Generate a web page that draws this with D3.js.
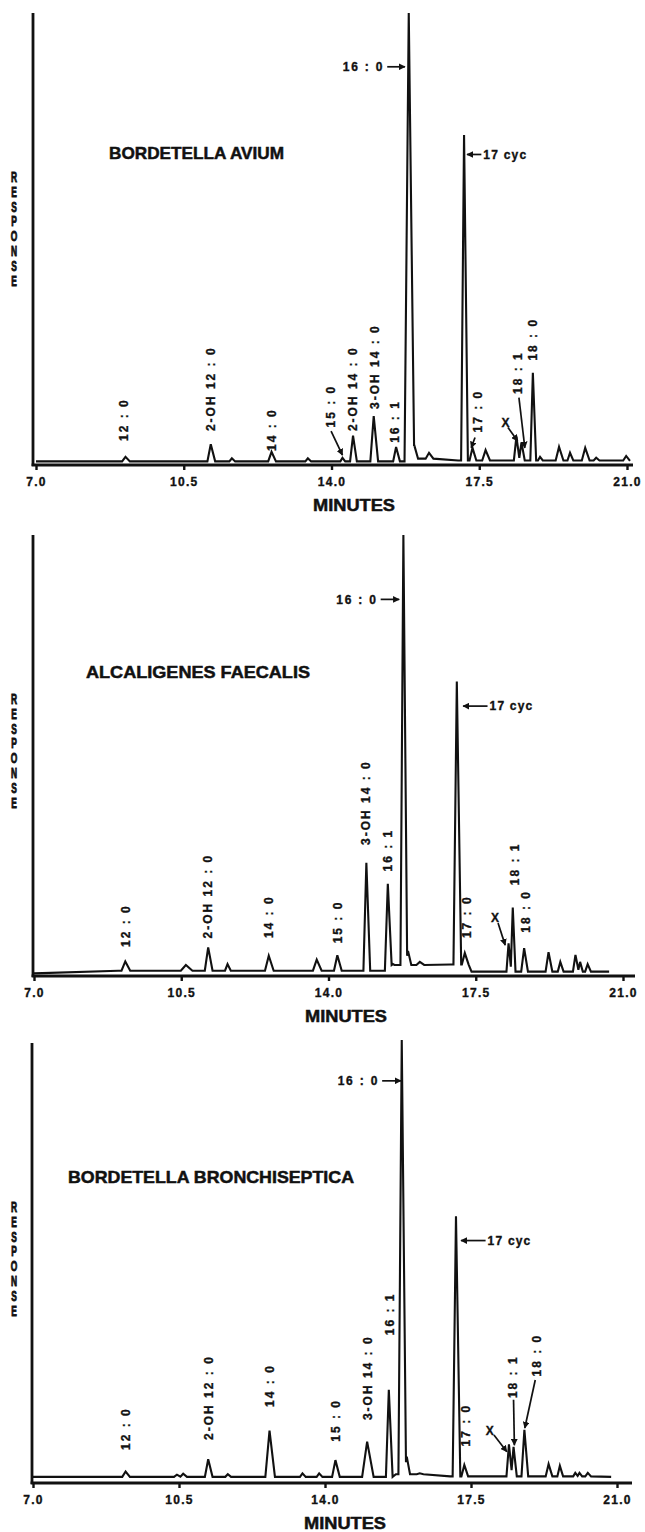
<!DOCTYPE html>
<html>
<head>
<meta charset="utf-8">
<script src="https://cdn.jsdelivr.net/npm/d3@7"></script>
<style>
html, body { margin: 0; padding: 0; background: #fff; }
svg text { font-family: "Liberation Sans", Arial, Helvetica, sans-serif; font-weight: bold; fill: #111; stroke: #111; stroke-width: 0.35px; }
</style>
</head>
<body>
<svg id="chart" width="645" height="1532"></svg>
<script>
// x axis, minutes
var tickValues = [7.0, 10.5, 14.0, 17.5, 21.0];

var speciesNames = ["BORDETELLA AVIUM", "ALCALIGENES FAECALIS", "BORDETELLA BRONCHISEPTICA"];

/*
 * peaks are [retention time (min), response (% of 16:0 full scale), half base width (min)]
 * baseline knots are [time, response]
 */

// Bordetella avium
var avPeaks = [
    [9.12, 1.8, 0.08], [11.14, 4.6, 0.08], [11.64, 1.5, 0.06], [12.58, 2.9, 0.08],
    [13.44, 1.5, 0.06], [14.26, 1.6, 0.05], [14.51, 6.5, 0.07], [15.00, 10.8, 0.08],
    [15.53, 4.0, 0.07], [15.83, 100, 0.10], [15.96, 4.4, 0.07], [16.31, 2.7, 0.08],
    [17.14, 73, 0.07], [17.34, 3.8, 0.07], [17.65, 3.3, 0.08], [18.38, 6.3, 0.06],
    [18.50, 5.0, 0.06], [18.77, 20.4, 0.06], [18.94, 1.8, 0.05], [19.39, 4.0, 0.08],
    [19.65, 2.7, 0.06], [20.01, 3.8, 0.08], [20.27, 1.6, 0.06], [20.98, 2.0, 0.07]
];
var avBaseline = [[7.0, 0.8], [15.9, 1.4], [17.0, 1.0], [21.06, 0.9]];
var avLabels = [
    ["12 : 0", 9.07, 5.3], ["2-OH 12 : 0", 11.14, 7.5], ["14 : 0", 12.58, 3.1],
    ["15 : 0", 13.99, 8.3], ["2-OH 14 : 0", 14.51, 7.5], ["3-OH 14 : 0", 15.02, 12.4],
    ["16 : 1", 15.50, 4.9], ["17 : 0", 17.46, 7.2], ["18 : 1", 18.41, 15.7],
    ["18 : 0", 18.77, 23.1]
];
var avX = [18.12, 9.4];
var avArrows = [[13.99, 7.5, 14.26, 2.2], [17.40, 6.1, 17.31, 3.8], [18.18, 8.3, 18.41, 5.3], [18.44, 14.9, 18.58, 3.8]];
var avCallouts = [["16 : 0", 15.32, 15.74, 88.1], ["17 cyc", 17.55, 17.21, 68.7]];

// Alcaligenes faecalis
var afPeaks = [
    [9.17, 3.3, 0.09], [10.61, 2.5, 0.12], [11.14, 6.5, 0.08], [11.60, 2.7, 0.06],
    [12.58, 4.6, 0.09], [13.72, 3.7, 0.09], [14.21, 4.7, 0.08], [14.90, 25.7, 0.07],
    [15.41, 20.9, 0.07], [15.53, 2.7, 0.03], [15.78, 100, 0.07], [15.89, 5.7, 0.06],
    [16.17, 3.2, 0.08], [17.05, 66.8, 0.08], [17.24, 5.2, 0.07], [18.28, 7.4, 0.05],
    [18.38, 15.5, 0.05], [18.65, 6.3, 0.07], [19.23, 5.4, 0.07], [19.51, 3.2, 0.06],
    [19.87, 4.8, 0.06], [19.98, 3.2, 0.05], [20.16, 2.7, 0.06]
];
var afBaseline = [[7.0, 0.6], [9.0, 1.2], [15.45, 2.5], [16.9, 2.6], [17.4, 1.0], [20.67, 1.0]];
var afLabels = [
    ["12 : 0", 9.17, 6.6], ["2-OH 12 : 0", 11.13, 8.5], ["14 : 0", 12.57, 8.6],
    ["15 : 0", 14.21, 7.4], ["3-OH 14 : 0", 14.89, 29.7], ["16 : 1", 15.41, 23.7],
    ["17 : 0", 17.29, 8.6], ["18 : 1", 18.42, 20.6], ["18 : 0", 18.69, 9.8]
];
var afX = [17.96, 13.2];
var afArrows = [[18.03, 12.0, 18.20, 7.0]];
var afCallouts = [["16 : 0", 15.24, 15.68, 85.4], ["17 cyc", 17.78, 17.20, 61.2]];

// Bordetella bronchiseptica
var bbPeaks = [
    [9.22, 2.6, 0.08], [10.45, 1.9, 0.07], [10.60, 2.1, 0.07], [11.20, 5.4, 0.08],
    [11.67, 2.0, 0.06], [12.67, 11.9, 0.10], [13.46, 2.2, 0.06], [13.86, 2.2, 0.06],
    [14.25, 5.2, 0.08], [15.01, 9.4, 0.12], [15.53, 21.2, 0.07], [15.84, 100.7, 0.08],
    [15.96, 6.0, 0.06], [16.27, 2.2, 0.07], [17.14, 60.6, 0.08], [17.34, 4.1, 0.07],
    [18.41, 8.8, 0.06], [18.52, 8.2, 0.06], [18.78, 12.1, 0.07], [19.36, 4.3, 0.07],
    [19.63, 3.9, 0.06], [20.00, 2.3, 0.05], [20.10, 2.3, 0.05], [20.30, 2.3, 0.06]
];
var bbBaseline = [[7.0, 1.4], [15.7, 2.0], [17.0, 1.5], [20.86, 1.4]];
var bbLabels = [
    ["12 : 0", 9.22, 7.5], ["2-OH 12 : 0", 11.22, 9.8], ["14 : 0", 12.67, 17.3],
    ["15 : 0", 14.25, 9.4], ["3-OH 14 : 0", 15.02, 14.3], ["16 : 1", 15.54, 33.6],
    ["17 : 0", 17.36, 8.3], ["18 : 1", 18.49, 19.3], ["18 : 0", 19.08, 24.2]
];
var bbX = [17.95, 12.0];
var bbArrows = [[18.05, 10.9, 18.36, 7.1], [18.52, 18.9, 18.54, 8.6], [19.04, 23.4, 18.79, 12.5]];
var bbCallouts = [["16 : 0", 15.37, 15.82, 91.4], ["17 cyc", 17.85, 17.26, 55.1]];

// page layout of the three panels
var panels = [
    { name: speciesNames[0], peaks: avPeaks, baseline: avBaseline, labels: avLabels, x: avX,
      arrows: avArrows, callouts: avCallouts,
      left: 36, right: 627, axisX: 33, axisEnd: 633, top: 13, bottom: 465,
      titleX: 109, titleY: 159, titleW: 175, minutesX: 354 },
    { name: speciesNames[1], peaks: afPeaks, baseline: afBaseline, labels: afLabels, x: afX,
      arrows: afArrows, callouts: afCallouts,
      left: 34, right: 623, axisX: 33, axisEnd: 635, top: 535, bottom: 976,
      titleX: 86, titleY: 678, titleW: 224, minutesX: 346 },
    { name: speciesNames[2], peaks: bbPeaks, baseline: bbBaseline, labels: bbLabels, x: bbX,
      arrows: bbArrows, callouts: bbCallouts,
      left: 33, right: 617, axisX: 32, axisEnd: 632, top: 1043, bottom: 1483,
      titleX: 68, titleY: 1183, titleW: 286, minutesX: 345 }
];

var svg = d3.select("#chart");

svg.append("defs").append("marker")
    .attr("id", "head")
    .attr("viewBox", "0 0 10 10")
    .attr("refX", 9)
    .attr("refY", 5)
    .attr("markerWidth", 4)
    .attr("markerHeight", 4)
    .attr("orient", "auto")
  .append("path")
    .attr("d", "M0,0L10,5L0,10z")
    .attr("fill", "#111");

/*
 * turn the peak table into the points of the recorder trace
 */
function tracePoints(peaks, baseline) {
    var level = function(t) {
        var v = baseline[0][1];
        baseline.forEach(function(b) { if (b[0] <= t) v = b[1]; });
        return v;
    };
    var tri = peaks.map(function(p) {
        var l = p[0] - p[2], r = p[0] + p[2] * 1.3;
        return { l: [l, level(l)], a: [p[0], p[1]], r: [r, level(r)] };
    });
    // overlapping neighbours meet where their flanks cross
    for (var i = 0; i < tri.length - 1; i++) {
        var A = tri[i], B = tri[i + 1];
        if (A.r[0] > B.l[0]) {
            var sA = (A.r[1] - A.a[1]) / (A.r[0] - A.a[0]),
                sB = (B.a[1] - B.l[1]) / (B.a[0] - B.l[0]),
                t = (B.l[1] - sB * B.l[0] - A.a[1] + sA * A.a[0]) / (sA - sB);
            t = Math.max(A.a[0], Math.min(B.a[0], t));
            var v = A.a[1] + sA * (t - A.a[0]);
            A.r = [t, v];
            B.l = null;
        }
    }
    var pts = [];
    tri.forEach(function(d) {
        if (d.l) pts.push(d.l);
        pts.push(d.a);
        pts.push(d.r);
    });
    baseline.forEach(function(b) {
        var inside = tri.some(function(d) {
            return b[0] > (d.l ? d.l[0] : d.a[0]) - 0.01 && b[0] < d.r[0] + 0.01;
        });
        if (!inside) pts.push(b);
    });
    pts.sort(function(a, b) { return a[0] - b[0]; });
    return pts;
}

function drawPanel(cfg) {
    var g = svg.append("g");
    var x = d3.scaleLinear().domain([7, 21]).range([cfg.left, cfg.right]);
    var y = d3.scaleLinear().domain([0, 100]).range([cfg.bottom, cfg.top]);

    // y axis, no ticks
    g.append("line")
        .attr("x1", cfg.axisX).attr("x2", cfg.axisX)
        .attr("y1", y(100)).attr("y2", y(0) + 1)
        .attr("stroke", "#111").attr("stroke-width", 2.8);

    // x axis
    var xAxis = d3.axisBottom(x)
        .tickValues(tickValues)
        .tickFormat(d3.format(".1f"))
        .tickSize(5)
        .tickSizeOuter(0)
        .tickPadding(7);
    var ax = g.append("g")
        .attr("transform", "translate(0," + cfg.bottom + ")")
        .call(xAxis);
    ax.select(".domain").remove();
    ax.selectAll(".tick line").attr("stroke", "#111").attr("stroke-width", 2.4);
    ax.selectAll(".tick text")
        .style("font-size", "12px")
        .style("letter-spacing", "1.3px")
        .style("font-family", "\"Liberation Sans\", Arial, sans-serif")
        .style("font-weight", "bold")
        .attr("fill", "#111");
    g.append("line")
        .attr("x1", cfg.axisX - 1.4).attr("x2", cfg.axisEnd)
        .attr("y1", cfg.bottom).attr("y2", cfg.bottom)
        .attr("stroke", "#111").attr("stroke-width", 2.8);

    g.append("text")
        .attr("x", cfg.minutesX)
        .attr("y", cfg.bottom + 46)
        .attr("text-anchor", "middle")
        .attr("textLength", 82)
        .attr("lengthAdjust", "spacingAndGlyphs")
        .style("font-size", "17px")
        .style("stroke-width", "0.5px")
        .text("MINUTES");

    // stacked RESPONSE letters
    g.selectAll("text.resp")
        .data("RESPONSE".split(""))
        .enter().append("text")
        .attr("class", "resp")
        .attr("text-anchor", "middle")
        .attr("transform", function(d, i) {
            return "translate(14," + (cfg.top + 169 + i * 14.8) + ") scale(0.6,1)";
        })
        .style("font-size", "14px")
        .style("stroke-width", "0.9px")
        .text(function(d) { return d; });

    // species name
    g.append("text")
        .attr("x", cfg.titleX)
        .attr("y", cfg.titleY)
        .attr("textLength", cfg.titleW)
        .attr("lengthAdjust", "spacingAndGlyphs")
        .style("font-size", "17px")
        .style("stroke-width", "0.5px")
        .text(cfg.name);

    // chromatogram trace
    var line = d3.line()
        .x(function(d) { return x(d[0]); })
        .y(function(d) { return y(d[1]); });
    g.append("path")
        .datum(tracePoints(cfg.peaks, cfg.baseline))
        .attr("d", line)
        .attr("fill", "none")
        .attr("stroke", "#111")
        .attr("stroke-width", 2.1)
        .attr("stroke-linejoin", "miter");

    // vertical peak labels
    g.selectAll("text.peak")
        .data(cfg.labels)
        .enter().append("text")
        .attr("class", "peak")
        .attr("transform", function(d) {
            return "translate(" + (x(d[1]) + 4.4) + "," + y(d[2]) + ") rotate(-90)";
        })
        .style("font-size", "12px")
        .style("letter-spacing", "2px")
        .text(function(d) { return d[0]; });

    g.append("text")
        .attr("x", x(cfg.x[0]))
        .attr("y", y(cfg.x[1]) + 4.5)
        .attr("text-anchor", "middle")
        .style("font-size", "12px")
        .text("X");

    g.selectAll("line.arrow")
        .data(cfg.arrows)
        .enter().append("line")
        .attr("class", "arrow")
        .attr("x1", function(d) { return x(d[0]); })
        .attr("y1", function(d) { return y(d[1]); })
        .attr("x2", function(d) { return x(d[2]); })
        .attr("y2", function(d) { return y(d[3]); })
        .attr("stroke", "#111")
        .attr("stroke-width", 1.7)
        .attr("marker-end", "url(#head)");

    // 16:0 and 17 cyc call-outs
    cfg.callouts.forEach(function(c) {
        var toRight = c[2] > c[1];
        g.append("line")
            .attr("x1", x(c[1])).attr("x2", x(c[2]))
            .attr("y1", y(c[3])).attr("y2", y(c[3]))
            .attr("stroke", "#111")
            .attr("stroke-width", 1.7)
            .attr("marker-end", "url(#head)");
        g.append("text")
            .attr("x", toRight ? x(c[1]) - 3 : x(c[1]) + 2)
            .attr("y", y(c[3]) + 4.3)
            .attr("text-anchor", toRight ? "end" : "start")
            .style("font-size", "12px")
            .style("letter-spacing", toRight ? "1.8px" : "1.2px")
            .text(c[0]);
    });
}

panels.forEach(drawPanel);
</script>
</body>
</html>
